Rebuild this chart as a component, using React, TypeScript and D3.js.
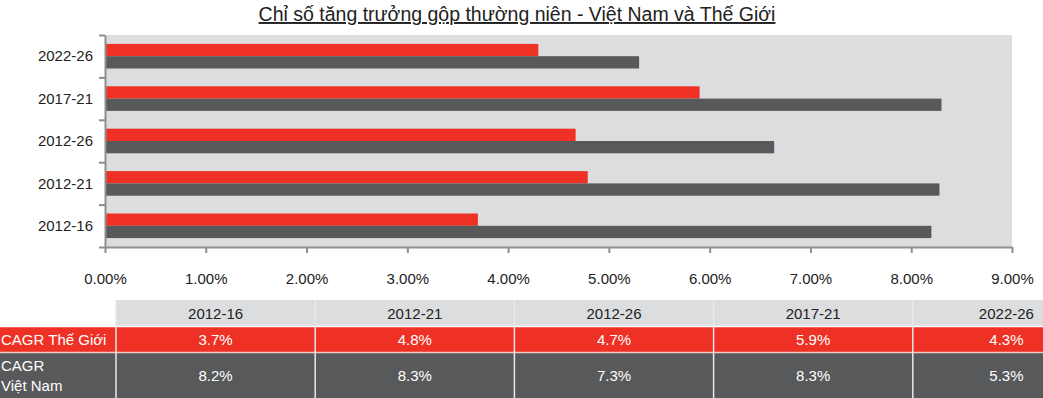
import React from "react";
import * as d3 from "d3";

// bar values as drawn in the chart (percent)
const periods = ["2012-16", "2012-21", "2012-26", "2017-21", "2022-26"];
const worldCagr = [3.7, 4.79, 4.67, 5.9, 4.3];
const vietnamCagr = [8.2, 8.28, 6.64, 8.3, 5.3];

// table text under the chart
const worldLabels = ["3.7%", "4.8%", "4.7%", "5.9%", "4.3%"];
const vietnamLabels = ["8.2%", "8.3%", "7.3%", "8.3%", "5.3%"];
const xTicks = [0, 1, 2, 3, 4, 5, 6, 7, 8, 9];

const title = "Chỉ số tăng trưởng gộp thường niên - Việt Nam và Thế Giới";

const RED = "#ee3124";
const DARK = "#58595b";
const LIGHT = "#dcdddf";
const AXIS = "#8e8e8e";
const FONT = "'Liberation Sans', Arial, sans-serif";

const App = () => {
  const width = 1043;
  const height = 398;
  const plot = { left: 105, right: 1012, top: 35, bottom: 247 };
  const table = { left: 116, colWidth: 199.2, header: 300, red: 327, dark: 353 };

  const xAxis = React.useRef(null);
  const yAxis = React.useRef(null);

  const xScale = d3.scaleLinear().domain([0, 9]).range([plot.left, plot.right]);
  const yScale = d3
    .scaleBand()
    .domain([...periods].reverse())
    .range([plot.top, plot.bottom])
    .paddingInner(0.42)
    .paddingOuter(0.21);
  const subScale = d3.scaleBand().domain(["world", "vn"]).range([0, yScale.bandwidth()]);
  const bounds = d3.scaleLinear().domain([0, periods.length]).range([plot.bottom, plot.top]);

  const colScale = d3
    .scaleBand()
    .domain(periods)
    .range([table.left, table.left + table.colWidth * periods.length]);

  React.useEffect(() => {
    const bottom = d3
      .axisBottom(xScale)
      .tickValues(xTicks)
      .tickFormat((d) => `${(d as number).toFixed(2)}%`)
      .tickSize(6)
      .tickSizeOuter(0)
      .tickPadding(20);
    const left = d3
      .axisLeft(bounds)
      .tickValues(d3.range(periods.length + 1))
      .tickFormat(() => "")
      .tickSize(6)
      .tickSizeOuter(0);

    // @ts-ignore
    const gx = d3.select(xAxis.current).call(bottom);
    // @ts-ignore
    const gy = d3.select(yAxis.current).call(left);
    [gx, gy].forEach((g) => {
      g.selectAll("path,line").attr("stroke", AXIS).attr("stroke-width", 2);
    });
    gx.selectAll("text")
      .attr("font-family", FONT)
      .attr("font-size", 15)
      .attr("fill", "#222");
  }, []);

  return (
    <svg
      width={width}
      height={height}
      style={{ position: "absolute", left: 0, top: 0, background: "#fff" }}
      fontFamily={FONT}
    >
      <text
        x={517}
        y={21}
        textAnchor="middle"
        fontSize={19.5}
        fill="#222"
        textDecoration="underline"
      >
        {title}
      </text>

      <rect
        x={plot.left}
        y={plot.top}
        width={plot.right - plot.left}
        height={plot.bottom - plot.top}
        fill={LIGHT}
      />

      {periods.map((p, i) => (
        <g key={p} transform={`translate(0, ${yScale(p)})`}>
          <rect
            x={xScale(0)}
            y={subScale("world")}
            width={xScale(worldCagr[i]) - xScale(0)}
            height={subScale.bandwidth()}
            fill={RED}
          />
          <rect
            x={xScale(0)}
            y={subScale("vn")}
            width={xScale(vietnamCagr[i]) - xScale(0)}
            height={subScale.bandwidth()}
            fill={DARK}
          />
          <text
            x={plot.left - 12}
            y={yScale.bandwidth() / 2}
            dy="0.35em"
            textAnchor="end"
            fontSize={15}
            fill="#222"
          >
            {p}
          </text>
        </g>
      ))}

      <g ref={xAxis} transform={`translate(0, ${plot.bottom})`} />
      <g ref={yAxis} transform={`translate(${plot.left}, 0)`} />

      {/* table */}
      <rect x={table.left} y={table.header} width={width - table.left} height={table.red - table.header} fill={LIGHT} />
      <rect x={0} y={table.red} width={width} height={table.dark - table.red} fill={RED} />
      <rect x={0} y={table.dark} width={width} height={height - table.dark} fill={DARK} />
      <line x1={0} x2={width} y1={table.red - 0.5} y2={table.red - 0.5} stroke="#fff" strokeWidth={1.5} />
      <line x1={0} x2={width} y1={table.dark - 0.5} y2={table.dark - 0.5} stroke="#f4c8c4" strokeWidth={1.5} />
      {periods.map((p) => (
        <line
          key={p}
          x1={colScale(p)}
          x2={colScale(p)}
          y1={table.header}
          y2={height}
          stroke="#e8e8e8"
          strokeWidth={1.5}
        />
      ))}

      <text x={1} y={(table.red + table.dark) / 2} dy="0.35em" fontSize={15} fill="#fff">
        CAGR Thế Giới
      </text>
      <text x={1} y={366} dy="0.35em" fontSize={15} fill="#fff">
        CAGR
      </text>
      <text x={1} y={386} dy="0.35em" fontSize={15} fill="#fff">
        Việt Nam
      </text>

      {periods.map((p, i) => {
        const cx = (colScale(p) ?? 0) + colScale.bandwidth() / 2 - (i === periods.length - 1 ? 6 : 0);
        return (
          <g key={p} textAnchor="middle" fontSize={15}>
            <text x={cx} y={(table.header + table.red) / 2} dy="0.35em" fill="#222">
              {p}
            </text>
            <text x={cx} y={(table.red + table.dark) / 2} dy="0.35em" fill="#fff">
              {worldLabels[i]}
            </text>
            <text x={cx} y={376} dy="0.35em" fill="#fff">
              {vietnamLabels[i]}
            </text>
          </g>
        );
      })}
    </svg>
  );
};

export default App;
